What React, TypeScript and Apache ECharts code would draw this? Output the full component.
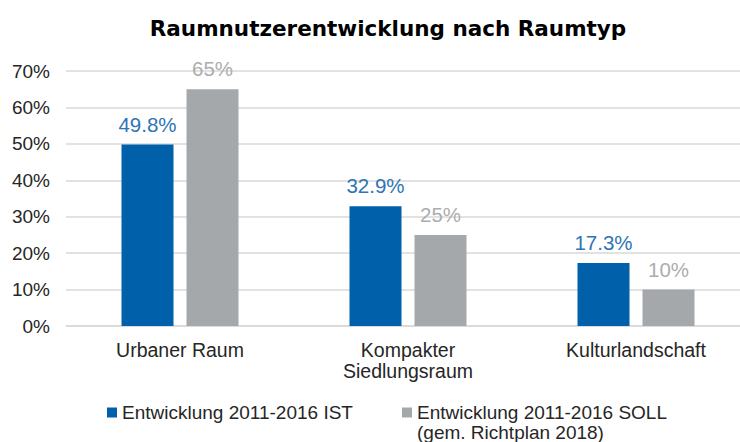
import React, { useEffect, useRef } from "react";
import * as echarts from "echarts";

const titleText = "Raumnutzerentwicklung nach Raumtyp";
const categories = ["Urbaner Raum", "Kompakter\nSiedlungsraum", "Kulturlandschaft"];
const seriesNames = ["Entwicklung 2011-2016 IST", "Entwicklung 2011-2016 SOLL"];
const sollNote = "(gem. Richtplan 2018)";
const istValues = [49.8, 32.9, 17.3];
const sollValues = [65, 25, 10];
const istLabels = ["49.8%", "32.9%", "17.3%"];
const sollLabels = ["65%", "25%", "10%"];

const FONT = "'Liberation Sans', Arial, sans-serif";
const TITLE_FONT = "'DejaVu Sans', 'Liberation Sans', sans-serif";

export default function App() {
  const ref = useRef<HTMLDivElement>(null);
  useEffect(() => {
    document.body.style.margin = "0";
    if (!ref.current) return;
    const chart = echarts.init(ref.current, null, { renderer: "svg" });
    chart.setOption({
      animation: false,
      backgroundColor: "#ffffff",
      textStyle: { fontFamily: FONT },
      title: {
        text: titleText,
        left: 383,
        top: 12,
        textAlign: "center",
        textStyle: { fontFamily: TITLE_FONT, fontSize: 21.5, fontWeight: "bold", color: "#000000" },
      },
      grid: { left: 66, top: 71, width: 684, height: 255, outerBoundsMode: "none" },
      legend: [
        {
          data: [seriesNames[0]],
          left: 102,
          top: 398,
          itemWidth: 10,
          itemHeight: 10,
          icon: "rect",
          textStyle: { fontFamily: FONT, fontSize: 19, lineHeight: 18, color: "#262626" },
        },
        {
          data: [seriesNames[1]],
          left: 397,
          top: 398,
          itemWidth: 10,
          itemHeight: 10,
          icon: "rect",
          textStyle: { fontFamily: FONT, fontSize: 19, lineHeight: 18, color: "#262626" },
        },
      ],
      graphic: [
        {
          type: "text",
          x: 417,
          y: 432.5,
          style: {
            text: sollNote,
            fontFamily: FONT,
            fontSize: 19,
            lineHeight: 17,
            verticalAlign: "middle",
            fill: "#262626",
          },
        },
      ],
      xAxis: {
        type: "category",
        data: categories,
        axisLine: { show: true, lineStyle: { color: "#D9D9D9", width: 1.5 } },
        axisTick: { show: false },
        axisLabel: {
          fontFamily: FONT,
          fontSize: 19.5,
          color: "#262626",
          margin: 13,
          lineHeight: 21,
          interval: 0,
        },
      },
      yAxis: {
        type: "value",
        min: 0,
        max: 70,
        interval: 10,
        axisLine: { show: false },
        axisTick: { show: false },
        splitLine: { lineStyle: { color: "#D9D9D9", width: 1.5 } },
        axisLabel: {
          fontFamily: FONT,
          fontSize: 19,
          color: "#262626",
          margin: 16,
          formatter: (v: number) => `${v}%`,
        },
      },
      series: [
        {
          name: seriesNames[0],
          type: "bar",
          data: istValues,
          barWidth: 52,
          barGap: "25%",
          itemStyle: { color: "#0060AA" },
          label: {
            show: true,
            position: "top",
            distance: 10,
            fontFamily: FONT,
            fontSize: 20.5,
            color: "#2E75B6",
            formatter: (p: any) => istLabels[p.dataIndex],
          },
        },
        {
          name: seriesNames[1],
          type: "bar",
          data: sollValues,
          barWidth: 52,
          itemStyle: { color: "#A5A8AB" },
          label: {
            show: true,
            position: "top",
            distance: 10,
            fontFamily: FONT,
            fontSize: 20.5,
            color: "#ADADAD",
            formatter: (p: any) => sollLabels[p.dataIndex],
          },
        },
      ],
    });
    return () => chart.dispose();
  }, []);
  return <div ref={ref} style={{ width: 740, height: 442 }} />;
}
